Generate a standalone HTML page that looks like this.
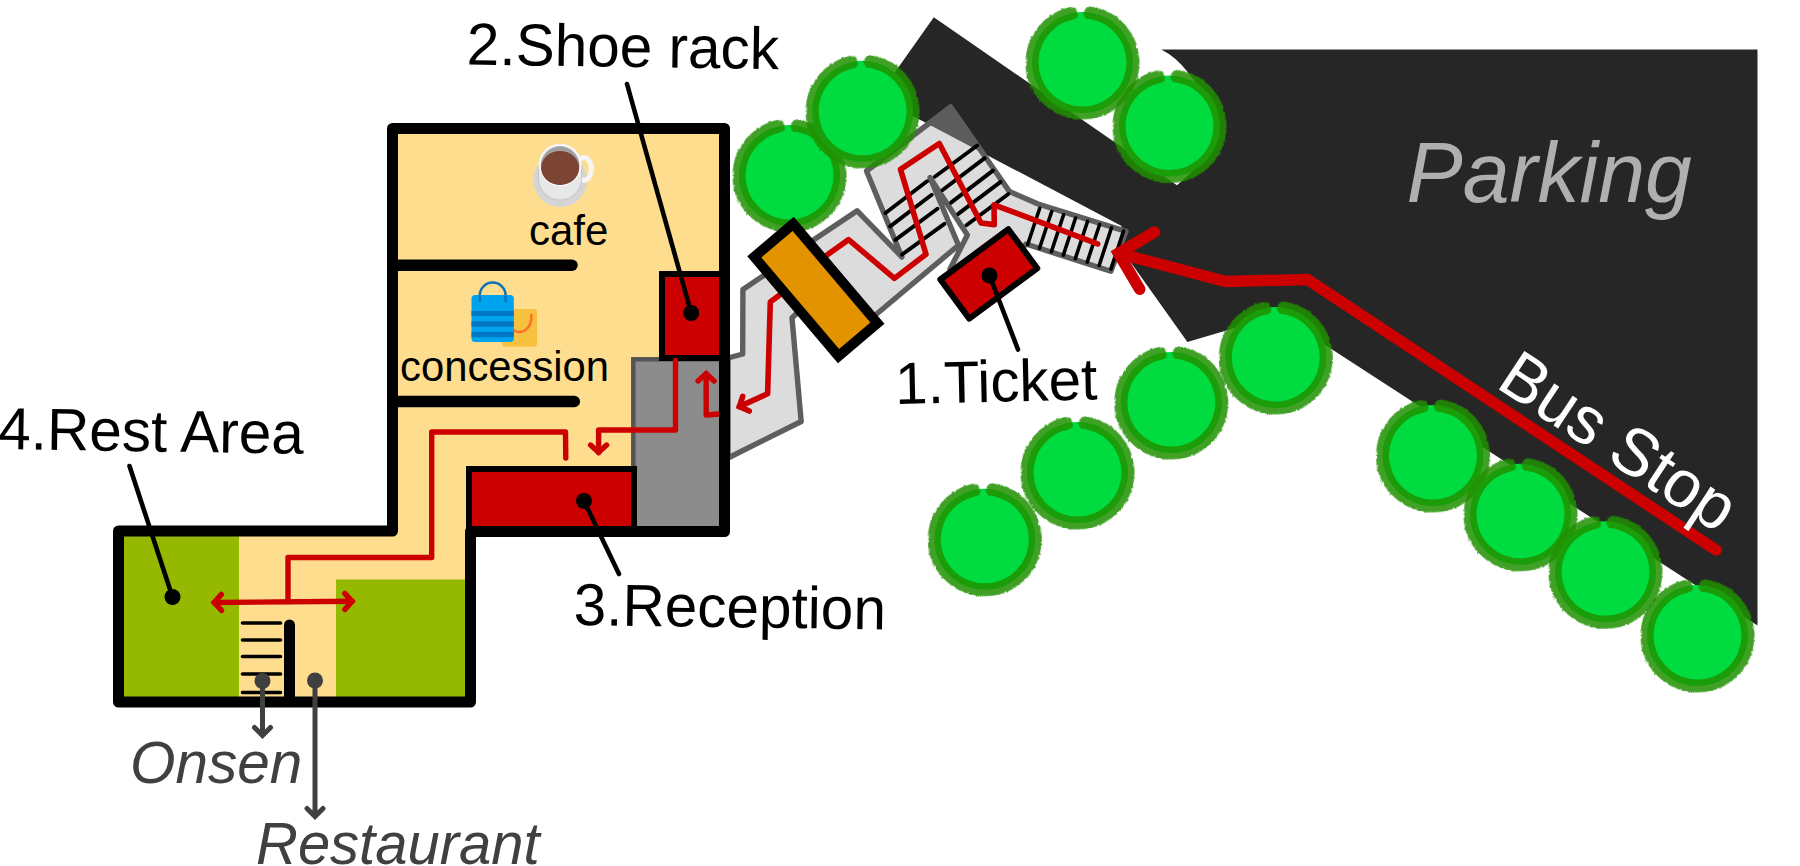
<!DOCTYPE html>
<html>
<head>
<meta charset="utf-8">
<title>Route map</title>
<style>
html,body{margin:0;padding:0;background:#fff;}
body{width:1800px;height:866px;overflow:hidden;}
svg{display:block;}
text{font-family:"Liberation Sans",sans-serif;}
</style>
</head>
<body>
<svg width="1800" height="866" viewBox="0 0 1800 866">
<defs>
  <filter id="rough" x="-10%" y="-10%" width="120%" height="120%">
    <feTurbulence type="fractalNoise" baseFrequency="0.35" numOctaves="2" seed="3" result="n"/>
    <feDisplacementMap in="SourceGraphic" in2="n" scale="3" xChannelSelector="R" yChannelSelector="G"/>
  </filter>
  <clipPath id="ringclip"><path clip-rule="evenodd" d="M-64 -64 H64 V64 H-64 Z M44 0 A44 44 0 1 0 -44 0 A44 44 0 1 0 44 0 Z"/></clipPath>
  <g id="tree">
    <circle cx="0" cy="0" r="50.5" fill="#00dc3f"/>
    <g clip-path="url(#ringclip)">
      <circle cx="0" cy="0" r="49.6" fill="none" stroke="#1f9007" stroke-opacity="0.85" stroke-width="14.6"
            stroke-dasharray="290.6 21" stroke-dashoffset="-10.5" stroke-linecap="round" transform="rotate(-92.3)" filter="url(#rough)"/>
    </g>
  </g>
  <clipPath id="roadclip">
    <path id="roadshape" d="M933.8 17.3 L1177 185.2 L1196 168 L1200 88 L1188 72.5 Q1176 57 1161.3 49.6 L1757.5 49.6 L1757.5 625.5 L1279 315 L1187.4 342 L1131.9 264.1 L1117.6 244 L1121.6 226 L877.3 97.2 Z"/>
  </clipPath>
</defs>
<rect width="1800" height="866" fill="#ffffff"/>

<!-- ============ parking / road ============ -->
<use href="#roadshape" fill="#262626"/>

<!-- ============ light gray walkway ============ -->
<g fill="#dcdcdc" stroke="#5e5e5e" stroke-width="5.4" stroke-linejoin="round">
  <!-- lower band from building to orange gate -->
  <path d="M728 358 L742.7 354 L742.9 289.4 L775 268 L800 310 L792 318 L801.2 421.5 L728 458 Z"/>
  <!-- zig-zag + stairs -->
  <path id="walk" d="M800 249 L857.2 210.8 L901.9 257 L866.5 171 L950.6 107 L1009.3 191.4 L1038.1 204 L1126 231.3 L1110.8 271.2 L1026 244 L990 280 L950 269 L967.4 235 L930 177.5 L958.5 245.2 L879.6 311.5 L850 335 Z"/>
</g>

<!-- overlap of walkway and road -->
<g clip-path="url(#roadclip)"><path d="M866.5 171 L950.6 107 L1009.3 191.4 Z" fill="#5c5c5c" stroke="#5c5c5c" stroke-width="5" stroke-linejoin="round"/></g>

<!-- stair treads (two flights) -->
<g stroke="#000" stroke-width="3.9" stroke-linecap="round" fill="none">
  <path d="M885.5 213 L927 181.3 M890.2 226.4 L931.7 194.8 M895.4 239.9 L937.4 208.7 M902 254.6 L944.4 223.9"/>
  <path d="M934.8 176.7 L977.3 145.5 M942.6 190 L984.7 158.1 M951 202.6 L992.9 170.6 M958.2 213.9 L1000.6 181.9 M966.4 225.2 L1008.4 194"/>
</g>
<!-- horizontal stair treads -->
<path d="M1039.7 208.3 L1027.6 244.7 M1051.7 211.5 L1039.5 248.2 M1063.6 214.8 L1051.4 251.6 M1075.6 218.0 L1063.3 255.1 M1087.6 221.3 L1075.3 258.6 M1099.6 224.5 L1087.2 262.1 M1111.5 227.8 L1099.1 265.5 M1123.5 231.0 L1111.0 269.0" stroke="#000" stroke-width="3.6" stroke-linecap="round" fill="none"/>
<!-- thin red route on walkway -->
<g fill="none" stroke="#cc0000" stroke-linecap="round" stroke-linejoin="round" stroke-width="5.6">
  <path d="M1097.6 243.9 L994 204.8 L994.3 224.6 L981 223 L939.3 143.5 L900.5 169.4 L926 254.2 L894.4 278.4 L848.6 239.6 L827 255"/>
  <path d="M779 295.5 L770.3 302 L767.6 393.8 L739.4 406.6"/>
  <path stroke-linejoin="miter" stroke-miterlimit="10" d="M749.3 411.0 L739.4 406.6 L742.7 396.3"/>
</g>

<!-- ============ building ============ -->
<path d="M392.5 128.5 H724.5 V531.5 H470.5 V702 H118.5 V531 H392.5 Z" fill="#fedd8e"/>
<rect x="124" y="536" width="115" height="161" fill="#94b900"/>
<rect x="336" y="579.5" width="130" height="118" fill="#94b900"/>
<rect x="633.3" y="359.3" width="92" height="172" fill="#8c8c8c" stroke="#555555" stroke-width="4.5"/>
<rect x="662" y="274" width="65" height="84" fill="#cc0000" stroke="#000" stroke-width="6"/>
<rect x="469" y="469" width="165" height="65" fill="#cc0000" stroke="#000" stroke-width="6"/>
<!-- inner walls -->
<path d="M397 265.3 H572" stroke="#000" stroke-width="11.5" stroke-linecap="round" fill="none"/>
<path d="M397 401.5 H574.3" stroke="#000" stroke-width="11.5" stroke-linecap="round" fill="none"/>
<path d="M289.5 625 V700" stroke="#000" stroke-width="11" stroke-linecap="round" fill="none"/>
<path d="M242.5 623 H280.5 M242.5 640 H280.5 M242.5 656.5 H280.5 M242.5 674 H280.5 M242.5 692.5 H280.5" stroke="#000" stroke-width="3.6" stroke-linecap="round" fill="none"/>
<!-- interior red route -->
<g fill="none" stroke="#cc0000" stroke-width="5.4" stroke-linecap="round" stroke-linejoin="round">
  <path d="M722 413.8 L706.2 415 L706.1 373.6"/>
  <path d="M675.5 360.5 V430 H598.6 V452.4"/>
  <path d="M565.8 458 L565.5 432 H431.7 V557.5 H288 V602 M214.2 602.5 L352.1 601.3"/>
  <g stroke-linejoin="miter" stroke-miterlimit="10">
    <path d="M606.6 445.1 L598.6 452.4 L590.6 445.1"/>
    <path d="M698.1 380.9 L706.1 373.6 L714.1 380.9"/>
    <path d="M221.5 610.4 L214.2 602.5 L221.4 594.4"/>
    <path d="M344.8 593.4 L352.1 601.3 L344.9 609.4"/>
  </g>
</g>
<!-- outer wall -->
<path d="M392.5 128.5 H724.5 V531.5 H470.5 V702 H118.5 V531 H392.5 Z" fill="none" stroke="#000" stroke-width="11" stroke-linejoin="round"/>

<!-- ============ trees ============ -->
<use href="#tree" x="789.5" y="175.5"/>
<use href="#tree" x="862.6" y="111.3"/>
<use href="#tree" x="1082.5" y="62.5"/>
<use href="#tree" x="1169.5" y="126"/>
<use href="#tree" x="1275.8" y="357.5"/>
<use href="#tree" x="1171.3" y="402.5"/>
<use href="#tree" x="1077.5" y="472.5"/>
<use href="#tree" x="984.8" y="539.3"/>
<use href="#tree" x="1433" y="455.5"/>
<use href="#tree" x="1520.5" y="514.3"/>
<use href="#tree" x="1605.5" y="571.8"/>
<use href="#tree" x="1697.5" y="635.5"/>

<!-- ============ orange gate ============ -->
<rect x="-65.1" y="-25.5" width="130.2" height="51" fill="#e39300" stroke="#000" stroke-width="10" stroke-linejoin="miter" transform="translate(815.85 290) rotate(49.7)"/>

<!-- ============ ticket booth ============ -->
<rect x="-42.3" y="-24.3" width="84.6" height="48.6" fill="#cc0000" stroke="#000" stroke-width="6" stroke-linejoin="round" transform="translate(988.8 273.9) rotate(-36.5)"/>

<!-- ============ red route (bus stop to stairs) ============ -->
<g fill="none" stroke="#cc0000" stroke-linecap="round" stroke-linejoin="round">
  <path stroke-width="11.5" d="M1716 550 L1307.5 279.5 L1225.5 281.5 L1118.5 253.3"/>
  <path stroke-width="11.5" stroke-linejoin="miter" stroke-miterlimit="10" d="M1154.5 232 L1118.5 253.3 L1139.7 289.2"/>
</g>

<!-- ============ leader lines ============ -->
<g stroke="#000" stroke-width="4.6" stroke-linecap="round" fill="none">
  <path d="M129.5 466 L172.5 597"/>
  <path d="M627 84 L691.2 313"/>
  <path d="M584 501 L619 574"/>
  <path d="M989.5 275.5 L1018 349.5"/>
</g>
<g fill="#000">
  <circle cx="172.5" cy="597" r="8"/>
  <circle cx="691.2" cy="313" r="8"/>
  <circle cx="584" cy="501" r="8"/>
  <circle cx="989.5" cy="275.5" r="8"/>
</g>
<g stroke="#404040" stroke-width="5" stroke-linecap="round" stroke-linejoin="miter" stroke-miterlimit="10" fill="none">
  <path d="M262.5 681 V734 M254.5 727.5 L262.5 735.5 L270.5 727.5"/>
  <path d="M315 680.5 V815 M307 808.5 L315 816.5 L323 808.5"/>
</g>
<circle cx="262.5" cy="681" r="8" fill="#404040"/>
<circle cx="315" cy="680.5" r="8" fill="#404040"/>

<!-- ============ icons ============ -->
<g id="cup">
  <circle cx="560.2" cy="180.3" r="26.8" fill="#d5d5d5"/>
  <ellipse cx="583.8" cy="168.9" rx="7.6" ry="11.3" fill="none" stroke="#f5f5f5" stroke-width="5"/>
  <path d="M538.5 165.1 V178.4 A21.6 21.6 0 0 0 581.7 178.4 V165.1 Z" fill="#e7e7e7" stroke="#b9b9b9" stroke-width="0.7"/>
  <circle cx="560.1" cy="165.1" r="21.6" fill="#f5f5f5"/>
  <circle cx="560.1" cy="165.6" r="19.3" fill="#a0a0a0"/>
  <ellipse cx="560.1" cy="167.9" rx="19" ry="17" fill="#7c4432"/>
</g>
<g id="bags">
  <rect x="502.2" y="309" width="34.8" height="37.7" rx="3" fill="#f6c13f"/>
  <path d="M531.4 315 A11.9 15.5 0 0 1 512 328.5" fill="none" stroke="#ff6f2c" stroke-width="2.4" stroke-linecap="round"/>
  <rect x="471.5" y="295" width="42.3" height="47.1" rx="3.5" fill="#00a4ee"/>
  <rect x="471.5" y="311" width="42.3" height="5" fill="#0078c4"/>
  <rect x="471.5" y="321.2" width="42.3" height="5.5" fill="#0078c4"/>
  <rect x="471.5" y="331.8" width="42.3" height="5.4" fill="#0078c4"/>
  <path d="M479.8 301 V295.5 A12.9 12.9 0 0 1 505.6 295.5 V301" fill="none" stroke="#0b73b8" stroke-width="2.5" stroke-linecap="round"/>
</g>

<!-- ============ labels ============ -->
<text font-size="58.5" fill="#000" transform="translate(466.6 64.5) rotate(0.85) scale(1 1.015)">2.Shoe rack</text>
<text font-size="58.5" fill="#000" transform="translate(-2 449) rotate(0.9) scale(1 1.015)">4.Rest Area</text>
<text font-size="58.5" fill="#000" transform="translate(573.5 625) rotate(0.8) scale(1 1.015)">3.Reception</text>
<text font-size="58.4" fill="#000" transform="translate(895.5 404) rotate(-1.3) scale(1 1.015)">1.Ticket</text>
<text x="529" y="244.5" font-size="42" fill="#000">cafe</text>
<text x="400" y="380.8" font-size="41.8" fill="#000">concession</text>
<text font-size="58.5" font-style="italic" fill="#404040" transform="translate(130 783.3) scale(1 1.015)">Onsen</text>
<text font-size="58" font-style="italic" fill="#404040" transform="translate(256 864) scale(1 1.015)">Restaurant</text>
<text font-size="84.2" font-style="italic" fill="#afafaf" transform="translate(1406.5 202) scale(1 1.02)">Parking</text>
<text font-size="66" fill="#fff" transform="translate(1494.5 386.5) rotate(33.4) scale(1 1.015)">Bus Stop</text>
</svg>
</body>
</html>
